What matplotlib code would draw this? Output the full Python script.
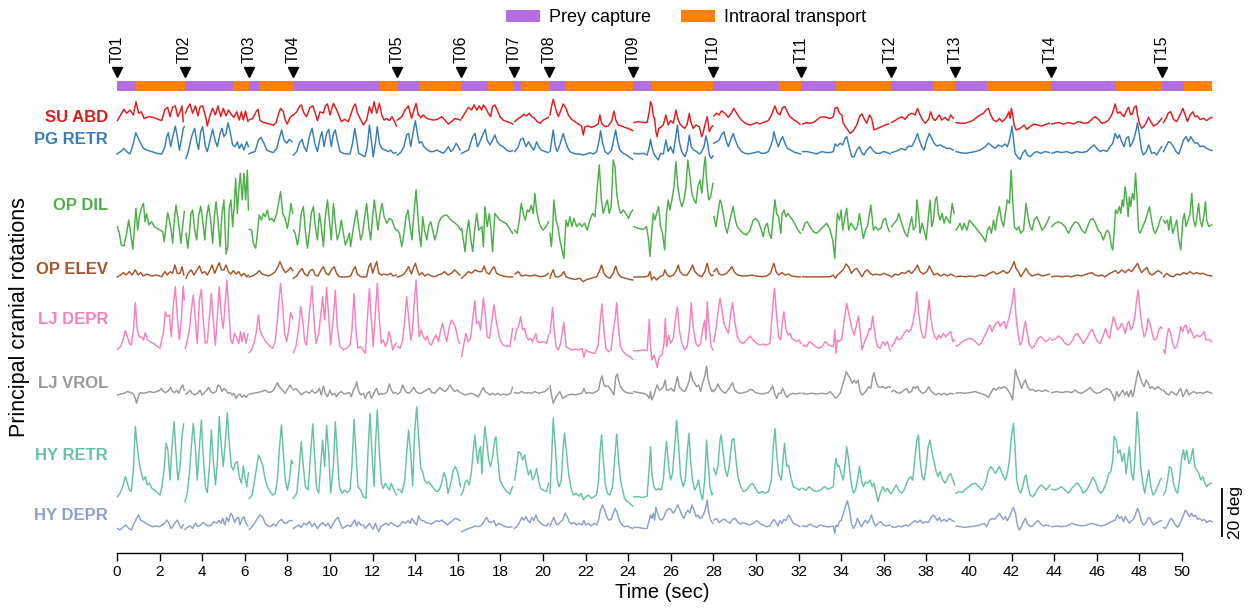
import numpy as np
import matplotlib
matplotlib.use("Agg")
import matplotlib.pyplot as plt
from matplotlib.patches import Patch

plt.rcParams['font.family'] = ['Liberation Sans', 'DejaVu Sans']

# ---------------- data ----------------
trial_names = ["T01", "T02", "T03", "T04", "T05", "T06", "T07", "T08",
               "T09", "T10", "T11", "T12", "T13", "T14", "T15"]
trial_start = [0.0, 3.17, 6.18, 8.26, 13.13, 16.15, 18.64, 20.30,
               24.24, 28.00, 32.10, 36.32, 39.35, 43.83, 49.08]
capture_end = [0.89, 5.46, 6.69, 12.33, 14.18, 17.40, 19.00, 21.03,
               25.10, 31.10, 33.74, 38.30, 40.86, 46.88, 50.10]
record_end = 51.40

series_names = ["SU ABD", "PG RETR", "OP DIL", "OP ELEV",
                "LJ DEPR", "LJ VROL", "HY RETR", "HY DEPR"]
series_colors = ["#e41a1c", "#377eb8", "#4daf4a", "#a65628",
                 "#f781bf", "#999999", "#66c2a5", "#8da0cb"]

# (time in s, rotation in deg)
su_abd = [
    (0.02,1.8),(0.17,4.1),(0.33,6.4),(0.45,4.8),(0.61,6.1),(0.77,4.1),(0.89,9.5),(1.02,4.8),(1.14,5.4),(1.27,2.7),
    (1.47,3.4),(1.71,3.1),(1.94,2.3),(2.10,1.8),(2.25,6.4),(2.38,7.2),(2.49,3.4),(2.61,7.2),(2.74,7.8),(2.85,3.4),
    (2.96,5.4),(3.05,7.8),(3.11,1.4),
    (3.21,4.8),(3.30,6.8),(3.43,8.6),(3.55,4.8),(3.68,7.8),(3.80,3.7),(3.90,7.5),(4.02,7.8),(4.18,2.7),(4.24,-0.4),
    (4.37,4.1),(4.49,6.8),(4.62,4.1),(4.74,7.8),(4.87,3.4),(4.99,6.8),(5.12,3.7),(5.24,6.1),(5.37,4.1),(5.49,3.1),
    (5.62,5.4),(5.74,2.0),(5.84,5.4),(5.93,2.0),(6.03,5.7),(6.15,1.4),
    (6.20,2.0),(6.37,2.7),(6.53,5.4),(6.62,6.4),(6.71,2.0),(6.87,1.0),(7.03,0.7),(7.18,0.4),(7.34,-0.1),(7.47,1.0),
    (7.59,4.8),(7.68,6.8),(7.81,5.4),(7.90,2.0),(8.00,0.4),(8.12,3.1),(8.25,4.1),
    (8.28,4.1),(8.44,5.4),(8.56,7.5),(8.65,8.2),(8.78,4.8),(8.90,3.4),(9.06,7.2),(9.19,7.8),(9.31,4.8),(9.41,1.8),
    (9.53,5.4),(9.69,4.8),(9.78,7.8),(9.88,8.6),(10.00,4.1),(10.16,8.8),(10.28,6.8),(10.41,4.1),(10.53,1.4),(10.69,2.3),
    (10.86,1.4),(10.97,4.1),(11.10,7.5),(11.19,8.6),(11.28,5.0),(11.41,2.7),(11.57,0.0),(11.72,2.0),(11.85,7.5),(11.96,4.8),
    (12.07,9.5),(12.19,4.8),(12.32,8.8),(12.43,4.1),(12.54,2.0),(12.66,2.7),(12.79,1.8),(12.91,3.4),(13.01,1.8),(13.12,-0.4),
    (13.16,2.0),(13.37,3.4),(13.52,6.1),(13.68,7.8),(13.83,2.7),(13.94,6.1),(14.04,8.8),(14.15,4.1),(14.26,3.1),(14.38,4.1),
    (14.54,2.7),(14.70,2.3),(14.85,2.0),(15.04,2.3),(15.24,3.4),(15.40,2.0),(15.56,0.4),(15.71,1.4),(15.87,2.7),(16.03,2.3),
    (16.13,2.0),
    (16.18,2.7),(16.34,5.0),(16.50,7.2),(16.65,6.1),(16.76,8.2),(16.89,6.1),(17.01,7.8),(17.12,6.1),(17.20,8.2),(17.32,6.8),
    (17.43,4.8),(17.54,3.4),(17.63,7.5),(17.74,8.2),(17.85,6.1),(17.98,3.4),(18.13,2.0),(18.29,1.4),(18.45,1.0),(18.57,0.4),
    (18.68,1.4),(18.84,2.7),(18.99,3.4),(19.10,4.4),(19.23,3.7),(19.35,4.8),(19.48,3.4),(19.60,2.7),(19.73,1.4),(19.86,0.7),
    (20.01,2.0),(20.17,2.7),(20.26,3.1),
    (20.33,4.1),(20.40,7.5),(20.48,10.5),(20.61,6.1),(20.72,3.4),(20.84,6.1),(20.95,8.6),(21.08,6.8),(21.19,4.1),(21.34,2.3),
    (21.50,1.4),(21.66,0.4),(21.81,-0.4),(21.89,-4.1),(21.97,-0.7),(22.12,-0.4),(22.28,-1.0),(22.44,-0.4),(22.59,0.4),(22.67,4.1),
    (22.75,0.7),(22.91,-0.7),(23.06,-0.4),(23.22,1.4),(23.33,5.7),(23.42,2.0),(23.53,0.0),(23.69,-0.4),(23.85,-1.0),(24.00,-1.4),
    (24.21,-2.3),
    (24.27,1.0),(24.47,1.4),(24.71,1.0),(24.89,1.0),(24.99,5.4),(25.05,9.5),(25.11,8.2),(25.18,3.7),(25.24,2.7),(25.30,-2.7),
    (25.36,-4.8),(25.43,-1.4),(25.52,-1.0),(25.65,0.0),(25.77,4.1),(25.88,0.0),(25.99,1.8),(26.12,0.7),(26.24,6.1),(26.33,2.7),
    (26.43,0.4),(26.55,-0.7),(26.66,-1.4),(26.77,0.4),(26.87,4.8),(26.93,1.4),(27.05,-1.4),(27.18,0.0),(27.34,-0.7),(27.45,-4.8),
    (27.52,-3.1),(27.60,0.0),(27.71,3.4),(27.81,-2.7),(27.92,-0.7),(27.98,-0.4),
    (28.02,3.7),(28.15,4.8),(28.27,4.1),(28.38,5.8),(28.54,4.8),(28.70,3.1),(28.85,5.0),(28.96,6.8),(29.09,4.8),(29.25,2.7),
    (29.40,1.4),(29.56,0.4),(29.72,0.0),(29.87,0.4),(30.03,1.0),(30.18,0.4),(30.34,1.0),(30.58,1.8),(30.73,4.1),(30.81,6.1),
    (30.89,7.8),(31.00,5.0),(31.12,4.1),(31.25,7.2),(31.36,7.5),(31.47,5.4),(31.59,3.4),(31.75,2.3),(31.91,1.4),(32.06,0.4),
    (32.19,0.4),(32.38,1.0),(32.53,0.7),(32.69,1.0),(32.85,2.0),(33.00,3.1),(33.16,3.4),(33.48,2.7),(33.63,3.4),(33.71,6.8),
    (33.82,7.2),(33.92,4.8),(34.03,4.1),(34.10,0.7),(34.26,-1.4),(34.42,-3.4),(34.57,-2.3),(34.73,0.0),(34.86,3.4),(34.97,4.5),
    (35.07,2.7),(35.20,0.7),(35.33,4.1),(35.43,2.7),(35.54,-2.0),(35.70,-1.4),(35.90,-0.7),(36.06,0.0),(36.22,0.4),
    (36.37,1.0),(36.53,1.8),(36.69,2.7),(36.84,3.4),(37.00,2.3),(37.16,4.1),(37.31,4.8),(37.47,4.1),(37.58,6.8),(37.67,4.8),
    (37.78,2.7),(37.94,0.7),(38.10,2.3),(38.20,5.4),(38.30,2.7),(38.41,1.8),(38.52,3.1),(38.61,4.1),(38.72,2.0),(38.88,3.1),
    (39.03,1.8),(39.14,4.1),(39.27,2.7),
    (39.39,1.0),(39.58,0.7),(39.82,0.7),(40.05,1.4),(40.21,2.0),(40.36,3.1),(40.52,4.1),(40.68,4.8),(40.80,6.1),(40.91,6.8),
    (41.02,4.1),(41.15,2.0),(41.30,1.4),(41.43,2.7),(41.54,1.4),(41.65,2.0),(41.77,3.4),(41.87,5.4),(41.93,2.7),(41.99,6.8),
    (42.05,4.1),(42.12,0.0),(42.21,-2.0),(42.40,-1.4),(42.59,0.0),(42.71,-1.8),(42.87,-0.7),(43.03,0.4),(43.21,0.0),(43.42,-0.4),
    (43.65,0.4),(43.78,0.7),
    (43.89,0.4),(44.04,0.7),(44.20,1.0),(44.43,0.4),(44.67,1.0),(44.90,0.4),(45.14,1.4),(45.37,0.7),(45.61,1.0),(45.81,2.7),
    (45.92,3.4),(46.08,2.3),(46.23,0.7),(46.39,1.0),(46.55,2.0),(46.70,4.1),(46.78,6.1),(46.86,8.6),(46.97,4.8),(47.09,5.4),
    (47.19,4.1),(47.28,3.4),(47.41,6.1),(47.49,7.2),(47.59,4.1),(47.69,5.0),(47.75,7.2),(47.85,7.8),(47.91,4.1),(48.00,0.7),
    (48.11,-1.4),(48.27,0.0),(48.43,3.1),(48.53,1.4),(48.66,-0.4),(48.82,0.4),(48.97,1.8),(49.05,2.7),
    (49.13,1.0),(49.25,2.7),(49.36,5.0),(49.47,5.4),(49.60,2.3),(49.75,1.4),(49.91,4.1),(50.04,6.8),(50.15,4.1),(50.26,1.4),
    (50.38,4.1),(50.51,5.4),(50.61,3.4),(50.72,3.7),(50.85,2.3),(51.00,2.7),(51.16,1.8),(51.29,2.7),(51.40,3.1),
]

pg_retr = [
    (0.00,0.4),(0.17,1.4),(0.33,2.7),(0.45,1.4),(0.61,0.4),(0.77,4.8),(0.88,9.1),(1.00,6.8),(1.11,4.8),(1.24,2.7),
    (1.39,2.0),(1.63,1.4),(1.86,0.7),(2.10,0.4),(2.25,3.4),(2.33,7.5),(2.41,9.1),(2.52,3.4),(2.64,8.2),(2.74,11.8),
    (2.83,7.5),(2.93,2.0),(3.02,6.1),(3.11,10.9),(3.16,11.6),
    (3.24,-1.4),(3.35,1.4),(3.46,6.1),(3.55,8.8),(3.65,10.9),(3.74,5.4),(3.83,2.3),(3.93,9.5),(4.02,11.6),(4.15,3.4),
    (4.24,1.4),(4.37,6.1),(4.49,10.5),(4.60,6.1),(4.71,3.4),(4.84,8.8),(4.93,10.9),(5.02,7.5),(5.12,8.8),(5.21,13.2),
    (5.31,9.5),(5.43,4.1),(5.54,3.4),(5.65,5.4),(5.74,2.7),(5.85,4.5),(5.96,2.0),(6.09,5.4),(6.17,3.4),
    (6.20,0.4),(6.32,1.0),(6.48,1.4),(6.64,6.1),(6.75,7.2),(6.87,5.4),(7.03,2.0),(7.18,1.4),(7.34,1.0),(7.50,2.7),
    (7.62,6.8),(7.73,10.2),(7.84,6.1),(7.97,4.8),(8.09,6.4),(8.22,5.4),
    (8.28,0.0),(8.44,1.4),(8.56,4.8),(8.69,6.4),(8.78,3.4),(8.90,1.4),(9.03,7.5),(9.16,10.9),(9.28,4.8),(9.41,1.4),
    (9.53,6.8),(9.62,9.5),(9.72,3.4),(9.84,8.8),(9.94,10.5),(10.06,3.4),(10.16,8.8),(10.25,10.2),(10.34,6.1),(10.47,1.4),
    (10.63,0.7),(10.78,0.4),(10.94,0.4),(11.06,4.8),(11.16,10.9),(11.25,6.1),(11.35,0.7),(11.49,0.0),(11.64,-0.7),(11.75,3.4),
    (11.85,12.2),(11.94,6.1),(12.03,-0.7),(12.13,4.8),(12.22,11.6),(12.32,4.8),(12.43,2.7),(12.58,2.0),(12.74,1.4),(12.85,2.0),
    (12.97,0.7),(13.10,1.0),
    (13.16,0.0),(13.32,1.0),(13.47,3.4),(13.60,8.2),(13.69,8.8),(13.79,3.4),(13.91,9.5),(14.01,14.0),(14.10,8.8),(14.19,4.8),
    (14.30,5.4),(14.41,3.4),(14.54,2.3),(14.70,1.4),(14.85,1.4),(15.01,2.0),(15.16,1.4),(15.32,0.7),(15.45,2.0),(15.56,3.4),
    (15.67,1.4),(15.79,2.3),(15.92,4.8),(16.03,3.4),(16.10,2.0),
    (16.18,0.7),(16.34,1.4),(16.50,2.0),(16.60,4.8),(16.70,7.5),(16.81,8.8),(16.92,3.4),(17.01,4.8),(17.20,8.8),(17.29,10.5),
    (17.38,6.1),(17.51,4.1),(17.63,6.1),(17.74,8.2),(17.85,5.4),(17.98,4.1),(18.13,3.4),(18.29,2.0),(18.45,1.4),(18.57,1.8),
    (18.68,1.4),(18.84,3.4),(18.95,6.4),(19.07,6.8),(19.20,3.4),(19.32,5.4),(19.45,3.4),(19.57,2.0),(19.70,5.4),(19.79,3.4),
    (19.93,2.0),(20.09,1.4),(20.25,1.0),
    (20.33,1.4),(20.40,5.4),(20.48,10.2),(20.58,3.4),(20.67,1.4),(20.76,3.4),(20.95,8.8),(21.04,6.1),(21.14,3.4),(21.26,1.4),
    (21.42,0.7),(21.58,0.4),(21.73,0.4),(21.89,0.0),(22.05,0.4),(22.20,1.0),(22.36,0.4),(22.52,1.4),(22.64,6.1),(22.70,9.9),
    (22.80,4.8),(22.91,1.4),(23.06,0.4),(23.22,2.0),(23.33,6.8),(23.41,10.2),(23.50,5.4),(23.61,2.0),(23.77,0.7),(23.92,0.0),
    (24.08,-1.0),(24.21,-1.8),
    (24.27,0.7),(24.47,0.4),(24.71,0.7),(24.89,0.0),(24.99,3.4),(25.05,6.4),(25.11,3.4),(25.21,0.4),(25.30,-0.7),(25.41,-2.0),
    (25.52,0.7),(25.65,0.4),(25.77,6.1),(25.88,1.4),(25.99,3.4),(26.12,0.7),(26.21,6.1),(26.31,12.2),(26.40,5.4),(26.51,1.4),
    (26.66,-0.7),(26.77,2.0),(26.87,8.2),(26.96,3.4),(27.08,2.0),(27.21,1.4),(27.34,0.4),(27.45,1.4),(27.56,3.4),(27.65,7.8),
    (27.73,4.8),(27.81,0.0),(27.90,-1.4),(27.98,-0.4),
    (28.02,4.8),(28.15,5.4),(28.27,6.1),(28.38,8.2),(28.49,9.5),(28.59,6.1),(28.70,3.4),(28.81,6.1),(28.93,8.8),(29.03,6.1),
    (29.15,3.4),(29.32,1.4),(29.48,0.7),(29.64,0.4),(29.79,0.7),(29.95,1.0),(30.11,1.4),(30.26,0.7),(30.42,0.7),(30.58,1.4),
    (30.68,3.4),(30.78,6.1),(30.84,9.5),(30.94,6.1),(31.05,3.4),(31.16,6.1),(31.25,7.5),(31.36,4.8),(31.47,2.7),(31.63,2.0),
    (31.83,1.0),(31.99,0.7),(32.09,0.4),
    (32.19,1.4),(32.38,1.4),(32.61,1.0),(32.85,0.4),(33.08,1.4),(33.32,1.0),(33.48,1.0),(33.63,1.4),(33.71,4.5),(33.82,3.7),
    (33.95,4.8),(34.07,4.1),(34.18,6.8),(34.26,7.5),(34.37,3.4),(34.50,-0.7),(34.61,-0.7),(34.73,2.0),(34.86,3.4),(34.97,0.7),
    (35.07,0.0),(35.20,2.0),(35.36,3.4),(35.48,2.0),(35.64,0.7),(35.83,0.7),(35.98,1.4),(36.17,1.0),(36.30,0.4),
    (36.37,1.0),(36.53,1.4),(36.69,2.0),(36.84,2.7),(37.00,2.0),(37.16,3.7),(37.31,3.4),(37.47,6.1),(37.58,8.8),(37.67,6.1),
    (37.78,3.4),(37.89,2.0),(38.02,6.1),(38.14,8.8),(38.25,6.8),(38.36,4.8),(38.49,3.7),(38.64,4.1),(38.80,3.4),(38.96,2.7),
    (39.11,2.7),(39.27,2.0),
    (39.39,1.4),(39.58,1.0),(39.82,0.7),(40.05,1.0),(40.29,1.4),(40.52,2.0),(40.76,3.4),(40.91,4.8),(41.07,3.7),(41.22,2.7),
    (41.38,4.1),(41.54,3.4),(41.69,4.5),(41.80,3.4),(41.90,6.1),(41.96,8.8),(42.02,11.8),(42.09,6.1),(42.16,0.7),(42.27,-0.7),
    (42.40,-1.8),(42.52,0.7),(42.63,2.0),(42.74,0.0),(42.87,-0.7),(43.03,0.7),(43.18,1.4),(43.37,0.7),(43.57,1.4),(43.78,1.0),
    (43.89,0.7),(44.12,1.4),(44.35,1.0),(44.59,1.4),(44.82,0.7),(45.06,1.4),(45.29,1.0),(45.53,1.4),(45.76,3.4),(45.87,4.1),
    (46.00,2.7),(46.15,1.4),(46.31,2.0),(46.47,1.4),(46.62,3.4),(46.75,4.8),(46.86,8.8),(46.97,6.8),(47.06,8.2),(47.17,5.4),
    (47.28,3.4),(47.38,6.8),(47.49,7.5),(47.56,3.4),(47.66,4.8),(47.75,6.8),(47.85,10.2),(47.91,13.2),(48.00,8.2),(48.10,2.0),
    (48.19,0.0),(48.32,1.4),(48.44,4.1),(48.57,0.7),(48.69,1.0),(48.82,0.0),(48.94,2.0),(49.05,3.4),
    (49.13,1.4),(49.25,3.4),(49.36,5.4),(49.47,5.0),(49.60,3.4),(49.72,1.4),(49.85,0.4),(49.97,3.4),(50.07,6.1),(50.19,7.5),
    (50.30,5.4),(50.41,7.5),(50.51,6.1),(50.61,4.8),(50.72,5.0),(50.85,3.4),(51.00,3.7),(51.16,2.7),(51.32,2.0),(51.40,1.8),
]

op_dil = [
    (0.02,3.4),(0.11,0.7),(0.20,-4.1),(0.33,-4.5),(0.45,0.7),(0.55,6.1),(0.64,0.7),(0.74,-5.8),(0.81,2.0),(0.89,10.9),
    (0.97,2.0),(1.05,7.5),(1.14,10.9),(1.24,12.9),(1.32,5.4),(1.39,8.8),(1.50,4.1),(1.63,5.4),(1.75,3.4),(1.89,2.7),
    (2.02,2.0),(2.14,1.4),(2.22,-2.7),(2.30,3.4),(2.38,9.1),(2.46,6.1),(2.54,2.0),(2.61,-3.4),(2.69,6.1),(2.77,12.2),
    (2.85,7.5),(2.93,2.0),(3.00,-3.4),(3.08,3.4),(3.16,9.5),
    (3.24,0.7),(3.32,-5.4),(3.40,0.7),(3.47,8.8),(3.55,10.2),(3.65,2.0),(3.74,-2.0),(3.83,7.5),(3.93,11.8),(4.02,6.1),
    (4.12,-2.0),(4.21,7.5),(4.30,12.2),(4.40,6.1),(4.49,-3.4),(4.57,7.5),(4.65,13.6),(4.74,6.1),(4.84,-4.8),(4.93,8.8),
    (5.02,14.3),(5.12,-7.8),(5.20,-4.8),(5.27,10.9),(5.35,14.3),(5.43,3.4),(5.51,12.9),(5.57,23.1),(5.65,8.8),(5.73,19.7),
    (5.79,25.2),(5.88,14.3),(5.96,25.2),(6.04,14.3),(6.12,26.5),(6.17,10.2),
    (6.21,2.3),(6.32,2.0),(6.40,-3.4),(6.51,-5.4),(6.59,0.7),(6.68,8.2),(6.78,6.1),(6.87,8.8),(6.96,7.5),(7.06,10.2),
    (7.15,6.1),(7.26,6.8),(7.37,5.4),(7.50,8.8),(7.61,14.3),(7.68,17.7),(7.78,8.8),(7.89,6.8),(8.00,2.7),(8.09,7.5),
    (8.17,12.9),(8.25,8.8),
    (8.28,2.0),(8.37,0.7),(8.47,-4.1),(8.56,0.7),(8.65,8.8),(8.75,11.6),(8.84,2.0),(8.94,-5.4),(9.03,0.7),(9.12,8.8),
    (9.22,11.6),(9.31,3.4),(9.41,-2.0),(9.50,8.8),(9.59,3.4),(9.69,-4.8),(9.78,7.5),(9.88,14.3),(9.97,6.1),(10.06,-2.0),
    (10.16,12.9),(10.25,4.8),(10.34,-2.0),(10.44,0.7),(10.53,6.1),(10.63,0.7),(10.72,-4.1),(10.81,-2.0),(10.91,0.7),(10.97,-4.8),
    (11.06,0.7),(11.16,6.1),(11.25,10.2),(11.35,3.4),(11.44,-2.0),(11.53,0.7),(11.63,7.5),(11.72,12.9),(11.82,3.4),(11.91,-2.0),
    (12.00,7.5),(12.08,14.3),(12.16,8.8),(12.25,2.0),(12.35,8.8),(12.44,12.9),(12.54,7.5),(12.66,4.8),(12.79,6.8),(12.91,6.1),
    (13.04,2.7),(13.11,2.0),
    (13.16,2.0),(13.26,0.7),(13.37,-4.8),(13.47,0.7),(13.57,7.5),(13.66,10.2),(13.76,3.4),(13.85,-2.0),(13.94,8.8),(14.04,18.4),
    (14.12,8.8),(14.19,0.7),(14.27,-4.8),(14.35,7.5),(14.44,2.0),(14.54,-2.0),(14.63,3.4),(14.73,5.4),(14.82,2.0),(14.92,-2.0),
    (15.01,0.7),(15.10,4.8),(15.20,6.8),(15.32,7.8),(15.45,8.2),(15.56,7.5),(15.67,6.1),(15.79,5.4),(15.92,4.5),(16.04,3.4),
    (16.13,2.0),
    (16.18,2.7),(16.26,-2.0),(16.34,-6.8),(16.42,0.7),(16.51,6.1),(16.61,-2.0),(16.70,-6.8),(16.79,2.0),(16.89,8.8),(16.98,2.0),
    (17.13,3.4),(17.20,-4.8),(17.27,11.6),(17.38,3.4),(17.48,8.8),(17.56,2.0),(17.63,-6.8),(17.74,8.8),(17.85,7.5),(17.98,6.1),
    (18.13,5.4),(18.29,4.5),(18.45,2.3),(18.57,0.7),
    (18.68,2.0),(18.79,0.7),(18.89,6.1),(18.98,12.9),(19.07,8.8),(19.17,6.1),(19.26,10.2),(19.35,9.5),(19.45,12.2),(19.54,8.8),
    (19.62,17.0),(19.70,10.2),(19.79,6.1),(19.89,3.4),(20.01,2.0),(20.14,3.4),(20.26,5.4),
    (20.33,0.7),(20.39,-4.8),(20.45,2.0),(20.51,14.3),(20.61,6.1),(20.70,3.4),(20.79,-2.0),(20.89,-6.1),(20.98,-9.5),(21.08,6.1),
    (21.17,3.4),(21.26,7.5),(21.36,3.4),(21.45,6.8),(21.58,3.4),(21.70,4.8),(21.83,3.4),(21.95,4.8),(22.08,2.0),(22.20,6.1),
    (22.33,8.8),(22.44,7.5),(22.55,19.7),(22.64,28.6),(22.74,14.3),(22.83,8.8),(22.92,11.6),(23.02,14.3),(23.11,8.8),(23.20,11.6),
    (23.30,30.6),(23.38,27.9),(23.46,17.0),(23.55,11.6),(23.64,8.8),(23.77,10.2),(23.89,8.8),(24.02,6.8),(24.11,8.8),(24.21,10.2),
    (24.27,3.4),(24.47,2.7),(24.71,2.3),(24.86,3.4),(24.96,-2.0),(25.02,-8.8),(25.10,0.7),(25.18,8.8),(25.25,6.1),(25.33,8.8),
    (25.43,11.6),(25.52,3.4),(25.61,0.7),(25.71,-6.1),(25.80,8.8),(25.88,14.3),(25.96,10.2),(26.05,14.3),(26.15,19.7),(26.24,29.9),
    (26.33,19.7),(26.43,14.3),(26.52,11.6),(26.62,14.3),(26.71,19.7),(26.80,30.6),(26.90,23.8),(26.99,17.0),(27.09,14.3),(27.18,12.9),
    (27.27,19.7),(27.37,22.4),(27.46,17.0),(27.56,27.9),(27.62,32.0),(27.68,22.4),(27.78,14.3),(27.87,15.6),(27.98,21.1),
    (28.02,7.5),(28.12,3.4),(28.21,8.8),(28.31,14.3),(28.38,12.9),(28.46,8.8),(28.56,3.4),(28.65,0.7),(28.74,4.8),(28.85,8.8),
    (28.93,11.6),(29.03,6.1),(29.12,3.4),(29.25,2.0),(29.40,0.7),(29.56,0.0),(29.72,2.0),(29.87,6.1),(30.00,6.8),(30.12,5.4),
    (30.25,2.0),(30.34,-0.7),(30.43,3.4),(30.53,4.8),(30.62,0.7),(30.72,-1.4),(30.81,7.5),(30.89,14.3),(30.97,8.8),(31.06,7.5),
    (31.16,0.7),(31.23,8.8),(31.31,10.2),(31.41,7.5),(31.50,8.8),(31.60,7.5),(31.72,6.1),(31.85,4.1),(31.97,2.0),(32.09,0.7),
    (32.19,2.0),(32.30,4.8),(32.41,5.4),(32.53,3.4),(32.69,1.4),(32.85,0.7),(33.00,2.0),(33.16,3.4),(33.32,4.8),(33.48,2.0),
    (33.60,-2.0),(33.70,-9.5),(33.76,0.7),(33.82,8.8),(33.92,6.1),(34.00,10.2),(34.07,2.0),(34.18,7.5),(34.26,10.9),(34.35,2.0),
    (34.45,4.8),(34.57,3.4),(34.67,2.0),(34.76,3.4),(34.86,8.8),(34.95,3.4),(35.04,-1.4),(35.14,2.0),(35.23,3.4),(35.33,8.8),
    (35.39,12.2),(35.45,7.5),(35.51,2.0),(35.61,3.4),(35.73,2.0),(35.86,2.7),(35.98,6.1),(36.08,6.8),(36.17,3.4),(36.26,1.4),
    (36.36,3.4),(36.48,4.8),(36.61,6.1),(36.70,8.8),(36.80,6.1),(36.89,3.4),(37.00,0.7),(37.11,-0.7),(37.20,3.4),(37.31,7.5),
    (37.39,2.0),(37.49,3.4),(37.55,14.3),(37.63,8.8),(37.70,0.7),(37.80,4.8),(37.89,2.0),(37.99,-2.0),(38.08,6.1),(38.17,14.3),
    (38.25,3.4),(38.33,6.1),(38.42,14.3),(38.49,15.6),(38.56,8.8),(38.64,6.1),(38.74,8.8),(38.83,4.8),(38.92,7.5),(39.02,6.1),
    (39.11,4.8),(39.21,12.9),(39.30,8.8),
    (39.39,2.0),(39.49,3.4),(39.58,4.8),(39.68,2.0),(39.77,4.8),(39.90,2.0),(40.02,6.1),(40.15,4.8),(40.27,3.4),(40.40,2.0),
    (40.52,0.7),(40.65,-0.7),(40.77,-2.7),(40.87,2.0),(40.96,3.4),(41.05,0.7),(41.15,6.1),(41.24,2.0),(41.33,7.5),(41.43,11.6),
    (41.52,6.1),(41.62,3.4),(41.71,8.8),(41.80,14.3),(41.90,12.9),(41.98,26.5),(42.05,14.3),(42.13,3.4),(42.24,2.0),(42.34,3.4),
    (42.43,0.7),(42.56,2.0),(42.68,12.9),(42.77,7.5),(42.87,3.4),(42.96,2.0),(43.06,6.1),(43.18,7.5),(43.31,4.8),(43.43,2.0),
    (43.56,3.4),(43.68,5.4),(43.78,7.5),
    (43.89,3.4),(44.04,4.8),(44.20,5.4),(44.35,4.8),(44.51,3.4),(44.67,0.7),(44.82,3.4),(44.98,5.4),(45.14,4.8),(45.29,2.0),
    (45.45,0.7),(45.56,3.4),(45.69,6.1),(45.81,6.8),(45.94,4.8),(46.06,2.0),(46.19,0.7),(46.31,-2.0),(46.41,0.7),(46.50,2.0),
    (46.59,0.7),(46.69,-4.8),(46.75,-6.1),(46.81,0.7),(46.88,10.2),(46.97,8.8),(47.06,11.6),(47.13,8.8),(47.19,14.3),(47.25,11.6),
    (47.33,19.7),(47.41,14.3),(47.47,7.5),(47.53,15.6),(47.59,11.6),(47.67,17.0),(47.75,14.3),(47.82,25.2),(47.88,17.0),(47.96,2.0),
    (48.03,0.7),(48.16,3.4),(48.29,6.1),(48.38,8.8),(48.47,11.6),(48.57,6.1),(48.66,2.0),(48.75,0.7),(48.88,3.4),(48.97,6.1),
    (49.04,7.5),
    (49.13,6.1),(49.22,4.8),(49.32,6.1),(49.38,2.0),(49.47,7.5),(49.56,0.7),(49.66,3.4),(49.75,6.1),(49.85,-2.0),(49.94,-6.1),
    (50.04,6.1),(50.11,8.8),(50.19,3.4),(50.29,6.1),(50.38,8.8),(50.46,17.0),(50.54,6.1),(50.63,3.4),(50.72,8.8),(50.78,12.9),
    (50.85,6.1),(50.94,3.4),(51.04,8.8),(51.10,13.6),(51.16,6.1),(51.26,3.4),(51.35,4.1),(51.40,4.1),
]

op_elev = [
    (0.02,0.0),(0.17,0.8),(0.30,1.8),(0.42,0.8),(0.58,2.2),(0.70,0.8),(0.86,2.9),(0.99,0.8),(1.11,1.8),(1.24,0.4),
    (1.39,1.2),(1.63,0.4),(1.86,0.8),(2.10,0.1),(2.25,2.2),(2.36,0.8),(2.49,2.2),(2.61,1.5),(2.72,4.9),(2.83,1.5),
    (2.96,1.5),(3.05,4.2),(3.14,0.8),
    (3.24,-0.5),(3.36,1.8),(3.49,2.9),(3.61,0.8),(3.74,2.6),(3.87,4.5),(3.99,1.5),(4.12,2.2),(4.24,0.8),(4.37,2.9),
    (4.46,4.9),(4.59,1.5),(4.71,4.2),(4.80,5.8),(4.90,2.9),(5.02,2.9),(5.12,4.9),(5.23,2.2),(5.34,1.2),(5.46,2.6),
    (5.59,1.2),(5.71,2.2),(5.84,0.4),(5.96,1.5),(6.09,0.1),(6.17,0.8),
    (6.21,0.0),(6.37,0.4),(6.56,1.5),(6.68,2.6),(6.81,1.2),(6.96,0.8),(7.12,0.4),(7.28,1.2),(7.43,2.2),(7.56,4.2),
    (7.65,6.3),(7.78,3.5),(7.90,1.8),(8.03,2.6),(8.15,3.9),(8.25,2.6),
    (8.28,-0.5),(8.44,0.4),(8.56,2.2),(8.69,3.5),(8.81,1.2),(8.94,0.4),(9.06,2.6),(9.19,3.1),(9.31,0.8),(9.44,0.4),
    (9.56,2.6),(9.69,4.2),(9.81,1.5),(9.94,0.8),(10.06,2.9),(10.19,4.2),(10.31,1.5),(10.44,0.1),(10.63,0.0),(10.81,0.1),
    (10.97,0.4),(11.10,3.1),(11.19,4.2),(11.28,1.2),(11.44,0.1),(11.60,0.0),(11.72,0.1),(11.82,4.2),(11.91,5.6),(12.00,1.5),
    (12.10,4.2),(12.19,6.3),(12.29,1.5),(12.41,0.8),(12.54,1.2),(12.69,0.8),(12.85,1.5),(12.97,0.4),(13.10,0.8),
    (13.16,0.0),(13.32,0.4),(13.47,1.2),(13.60,2.9),(13.69,4.2),(13.82,1.2),(13.91,3.5),(14.01,5.6),(14.10,2.9),(14.19,0.8),
    (14.32,1.8),(14.44,0.4),(14.60,1.2),(14.76,0.4),(14.92,0.1),(15.07,0.8),(15.23,1.2),(15.38,2.2),(15.54,0.8),(15.70,1.5),
    (15.85,2.9),(15.98,1.8),(16.10,0.8),
    (16.18,-0.5),(16.34,0.8),(16.50,2.2),(16.65,1.5),(16.81,2.9),(16.97,2.2),(17.13,2.2),(17.23,4.5),(17.35,1.8),(17.48,1.2),
    (17.60,3.1),(17.70,4.2),(17.82,1.5),(17.98,0.8),(18.13,0.4),(18.29,0.1),(18.45,0.0),(18.57,0.1),
    (18.68,1.2),(18.84,2.2),(18.99,0.4),(19.20,0.8),(19.39,0.4),(19.62,0.8),(19.86,0.1),(20.09,0.4),(20.25,1.5),
    (20.33,-0.5),(20.40,1.5),(20.48,2.9),(20.58,0.1),(20.72,0.0),(20.87,0.8),(20.98,2.2),(21.08,0.1),(21.26,-0.5),(21.50,-1.0),
    (21.73,-0.5),(21.89,-1.9),(22.05,-1.0),(22.28,-0.5),(22.52,0.1),(22.64,2.2),(22.75,4.9),(22.86,1.5),(22.99,0.1),(23.14,-0.5),
    (23.30,1.5),(23.41,4.5),(23.52,1.5),(23.64,0.1),(23.85,-0.5),(24.08,-1.0),(24.21,-1.2),
    (24.27,0.0),(24.55,0.0),(24.79,0.1),(24.94,0.4),(25.02,2.2),(25.10,-1.2),(25.21,0.1),(25.33,-1.2),(25.49,0.1),(25.65,0.8),
    (25.72,2.9),(25.83,0.8),(25.96,0.1),(26.12,0.8),(26.27,2.9),(26.35,4.9),(26.43,2.2),(26.58,0.8),(26.77,0.8),(26.93,3.1),
    (27.02,4.9),(27.13,2.2),(27.29,0.8),(27.45,0.1),(27.60,2.2),(27.71,5.6),(27.81,1.8),(27.92,0.4),(27.98,0.8),
    (28.02,2.2),(28.15,3.5),(28.27,1.2),(28.43,0.8),(28.62,1.5),(28.78,3.1),(28.87,4.2),(29.00,1.8),(29.15,0.8),(29.34,0.4),
    (29.56,0.4),(29.79,0.8),(30.03,0.4),(30.26,0.1),(30.50,0.4),(30.68,1.5),(30.78,4.2),(30.84,5.6),(30.94,2.2),(31.06,0.8),
    (31.22,1.8),(31.36,0.8),(31.52,1.2),(31.67,0.4),(31.91,0.1),(32.09,0.0),
    (32.19,0.1),(32.45,0.0),(32.69,0.1),(32.92,0.0),(33.16,0.1),(33.48,0.1),(33.63,0.8),(33.73,-0.5),(33.82,0.8),(33.95,1.8),
    (34.10,3.1),(34.23,5.3),(34.35,4.2),(34.48,1.5),(34.60,2.9),(34.73,3.5),(34.86,1.8),(34.98,0.1),(35.11,2.2),(35.23,2.9),
    (35.36,1.5),(35.48,0.8),(35.64,1.2),(35.83,0.8),(36.01,1.5),(36.20,0.8),(36.30,0.4),
    (36.37,0.0),(36.53,1.2),(36.69,0.8),(36.84,1.8),(37.00,1.5),(37.16,2.6),(37.31,1.5),(37.47,3.1),(37.58,4.9),(37.70,2.2),
    (37.86,1.2),(38.02,2.2),(38.14,4.5),(38.25,2.6),(38.36,0.8),(38.52,1.5),(38.67,0.4),(38.83,1.2),(38.99,0.4),(39.14,1.2),
    (39.30,0.4),
    (39.39,0.1),(39.58,0.4),(39.82,0.1),(40.05,0.4),(40.29,0.1),(40.52,0.8),(40.76,0.4),(40.96,1.5),(41.15,2.2),(41.30,1.2),
    (41.46,1.8),(41.62,2.6),(41.77,1.5),(41.90,2.2),(42.02,4.2),(42.12,6.3),(42.21,3.5),(42.32,2.2),(42.43,0.1),(42.56,1.8),
    (42.68,3.5),(42.81,1.5),(42.95,0.4),(43.10,0.8),(43.26,1.2),(43.42,0.4),(43.62,0.8),(43.78,1.2),
    (43.89,0.1),(44.12,0.4),(44.35,0.1),(44.59,0.4),(44.82,0.1),(45.06,0.8),(45.29,0.4),(45.53,1.2),(45.76,1.8),(45.92,0.8),
    (46.08,0.4),(46.23,0.8),(46.39,0.1),(46.55,1.2),(46.70,1.8),(46.86,2.6),(47.01,1.5),(47.17,2.9),(47.33,1.8),(47.49,3.1),
    (47.64,2.2),(47.80,4.2),(47.91,5.6),(48.00,3.5),(48.11,1.8),(48.22,2.9),(48.35,3.9),(48.47,1.5),(48.60,0.8),(48.74,1.8),
    (48.89,2.6),(49.05,1.5),
    (49.13,0.0),(49.28,1.5),(49.44,0.4),(49.60,0.1),(49.75,1.2),(49.91,0.8),(50.07,1.8),(50.22,1.2),(50.38,2.2),(50.54,1.2),
    (50.69,1.8),(50.85,1.2),(51.00,1.5),(51.16,0.8),(51.40,0.4),
]

lj_depr = [
    (0.02,0.3),(0.17,1.4),(0.30,4.8),(0.39,7.9),(0.49,5.4),(0.58,2.7),(0.67,2.0),(0.77,8.2),(0.86,19.3),(0.95,8.2),
    (1.05,5.2),(1.14,5.4),(1.24,4.1),(1.33,7.1),(1.42,4.4),(1.55,3.4),(1.71,2.7),(1.86,1.6),(2.02,0.7),(2.11,4.8),
    (2.18,6.8),(2.27,15.6),(2.36,13.6),(2.46,14.3),(2.55,5.4),(2.64,17.7),(2.74,25.8),(2.83,13.6),(2.93,4.1),(3.02,12.2),
    (3.11,26.1),(3.16,20.4),
    (3.21,0.7),(3.30,4.1),(3.40,8.2),(3.49,16.3),(3.58,22.4),(3.68,12.2),(3.77,2.7),(3.87,20.4),(3.96,24.8),(4.05,12.2),
    (4.15,2.7),(4.24,3.0),(4.34,13.6),(4.43,23.1),(4.52,12.2),(4.62,2.0),(4.71,13.6),(4.80,25.8),(4.90,13.6),(4.99,8.8),
    (5.09,20.4),(5.15,28.6),(5.24,17.7),(5.34,4.1),(5.43,2.7),(5.52,6.8),(5.62,4.8),(5.71,2.7),(5.80,7.5),(5.87,3.4),
    (5.96,7.1),(6.06,2.7),(6.15,6.5),
    (6.20,-1.1),(6.32,0.0),(6.43,2.7),(6.53,6.8),(6.64,14.3),(6.71,8.2),(6.81,6.1),(6.93,4.1),(7.06,2.7),(7.18,1.6),
    (7.31,0.7),(7.43,3.4),(7.53,12.2),(7.62,21.8),(7.68,27.2),(7.78,17.7),(7.87,6.8),(7.97,3.4),(8.06,8.2),(8.15,15.2),
    (8.25,12.9),
    (8.28,-1.1),(8.40,1.4),(8.53,8.8),(8.62,17.7),(8.72,12.2),(8.81,3.4),(8.90,2.0),(9.03,15.0),(9.16,26.1),(9.25,12.2),
    (9.34,2.7),(9.47,6.8),(9.56,13.6),(9.65,21.8),(9.75,12.2),(9.84,25.6),(9.94,13.6),(10.03,2.0),(10.16,13.6),(10.25,24.5),
    (10.34,9.5),(10.47,1.4),(10.63,0.0),(10.78,0.7),(10.94,2.0),(11.03,8.2),(11.13,23.1),(11.22,8.2),(11.31,0.7),(11.44,1.4),
    (11.57,0.0),(11.66,-1.4),(11.75,12.2),(11.85,25.2),(11.94,12.2),(12.03,1.4),(12.13,15.0),(12.22,27.2),(12.32,12.2),(12.41,2.7),
    (12.50,4.1),(12.60,1.4),(12.69,3.4),(12.76,7.5),(12.85,4.8),(12.94,0.0),(13.04,2.0),(13.11,2.7),
    (13.18,1.4),(13.29,0.7),(13.41,4.1),(13.51,12.2),(13.60,21.8),(13.69,13.6),(13.79,4.1),(13.88,8.2),(13.94,17.7),(14.04,28.6),
    (14.12,15.0),(14.19,5.4),(14.29,8.2),(14.38,5.4),(14.48,4.1),(14.57,5.7),(14.66,2.7),(14.76,2.0),(14.85,4.1),(14.98,6.1),
    (15.09,3.4),(15.20,8.2),(15.29,10.9),(15.38,6.8),(15.48,3.4),(15.57,8.2),(15.70,12.2),(15.82,10.9),(15.92,8.2),(16.01,4.1),
    (16.10,2.7),
    (16.18,-2.7),(16.29,2.7),(16.38,6.8),(16.49,3.4),(16.60,4.8),(16.73,15.0),(16.80,20.1),(16.88,10.9),(16.98,11.6),(17.07,8.2),
    (17.13,15.0),(17.20,21.1),(17.29,15.0),(17.38,5.4),(17.48,4.8),(17.59,10.9),(17.70,18.4),(17.82,10.9),(17.98,4.1),(18.13,2.0),
    (18.29,1.6),(18.45,1.4),(18.57,8.8),
    (18.67,4.1),(18.76,8.2),(18.85,9.5),(18.95,13.6),(19.04,8.2),(19.13,8.8),(19.23,5.4),(19.32,4.1),(19.42,4.8),(19.51,3.4),
    (19.60,5.4),(19.67,6.8),(19.73,3.4),(19.86,3.0),(20.01,3.4),(20.17,2.7),(20.26,6.1),
    (20.33,6.8),(20.39,12.2),(20.45,17.4),(20.51,9.5),(20.61,1.4),(20.72,0.0),(20.83,2.7),(20.92,8.2),(20.98,11.2),(21.08,1.4),
    (21.20,0.7),(21.36,0.0),(21.51,0.3),(21.67,0.0),(21.83,0.7),(21.92,-3.0),(22.01,0.0),(22.14,-0.7),(22.28,-1.1),(22.44,-1.4),
    (22.59,2.0),(22.69,12.2),(22.77,18.8),(22.86,8.2),(22.95,0.7),(23.08,-0.7),(23.20,0.0),(23.30,8.2),(23.39,12.9),(23.46,19.3),
    (23.55,8.2),(23.64,1.4),(23.77,-0.7),(23.92,-2.0),(24.08,-2.7),(24.21,-3.8),
    (24.27,-0.3),(24.47,-0.3),(24.71,0.0),(24.89,-0.3),(24.99,12.5),(25.05,1.4),(25.11,-4.1),(25.21,-2.0),(25.30,-4.8),(25.36,-7.1),
    (25.46,-2.7),(25.59,-2.0),(25.68,2.7),(25.74,12.9),(25.80,1.4),(25.90,6.1),(25.99,2.7),(26.12,4.8),(26.21,12.2),(26.31,17.7),
    (26.40,8.2),(26.52,2.7),(26.65,0.0),(26.77,1.4),(26.87,8.2),(26.96,19.3),(27.05,9.5),(27.18,2.7),(27.30,1.4),(27.40,2.7),
    (27.49,8.2),(27.59,12.2),(27.65,4.1),(27.71,19.7),(27.81,8.2),(27.90,1.4),(27.98,0.0),
    (28.02,3.4),(28.12,8.2),(28.21,15.0),(28.31,21.1),(28.40,16.3),(28.49,10.9),(28.62,8.2),(28.71,6.8),(28.81,15.0),(28.90,19.3),
    (29.00,12.2),(29.12,5.4),(29.25,3.4),(29.40,2.7),(29.56,4.1),(29.72,5.7),(29.87,4.1),(30.03,2.7),(30.18,2.0),(30.34,2.4),
    (30.50,2.0),(30.65,2.7),(30.74,12.2),(30.81,20.4),(30.87,25.2),(30.97,13.6),(31.06,5.4),(31.16,4.1),(31.25,12.2),(31.31,15.6),
    (31.41,8.2),(31.50,6.1),(31.60,6.8),(31.69,4.8),(31.81,4.1),(31.91,3.4),(32.04,4.1),(32.09,2.7),
    (32.19,2.0),(32.38,1.4),(32.50,3.4),(32.63,2.7),(32.79,1.4),(32.94,0.7),(33.10,1.4),(33.25,3.4),(33.41,2.0),(33.63,1.4),
    (33.70,8.2),(33.76,-1.4),(33.82,4.1),(33.92,3.4),(34.03,4.8),(34.14,12.2),(34.26,19.0),(34.39,13.6),(34.50,8.8),(34.61,6.1),
    (34.70,9.5),(34.81,13.9),(34.92,5.4),(34.98,0.0),(35.07,2.7),(35.20,5.4),(35.33,8.8),(35.39,8.2),(35.48,13.9),(35.54,9.5),
    (35.61,4.8),(35.70,1.4),(35.83,0.7),(35.95,3.4),(36.06,2.0),(36.17,3.4),(36.30,-0.3),
    (36.37,1.4),(36.48,2.7),(36.61,5.4),(36.70,4.1),(36.83,4.8),(36.95,6.8),(37.08,8.2),(37.17,7.5),(37.27,8.2),(37.36,10.9),
    (37.47,16.3),(37.55,23.8),(37.64,15.0),(37.74,8.2),(37.86,4.8),(37.95,5.4),(38.05,13.6),(38.13,20.4),(38.20,13.6),(38.30,8.2),
    (38.39,5.4),(38.49,4.1),(38.58,6.1),(38.67,4.8),(38.80,6.8),(38.92,5.4),(39.05,6.8),(39.14,7.5),(39.24,3.4),(39.31,4.1),
    (39.39,1.6),(39.52,2.0),(39.68,3.4),(39.83,4.1),(39.99,4.8),(40.15,4.4),(40.30,3.4),(40.46,2.0),(40.58,2.7),(40.71,5.4),
    (40.80,6.8),(40.90,8.8),(40.99,10.2),(41.08,7.5),(41.18,9.5),(41.27,10.9),(41.37,11.6),(41.46,9.5),(41.55,10.9),(41.65,11.6),
    (41.74,8.8),(41.83,11.6),(41.93,15.0),(42.02,19.0),(42.12,25.2),(42.21,13.6),(42.30,6.8),(42.40,2.0),(42.49,3.4),(42.59,9.5),
    (42.65,11.6),(42.74,6.8),(42.84,2.0),(42.96,0.7),(43.09,2.0),(43.21,4.1),(43.34,5.4),(43.46,4.8),(43.59,3.4),(43.71,4.1),
    (43.80,4.8),
    (43.89,4.1),(44.04,4.4),(44.20,5.7),(44.35,4.8),(44.51,2.7),(44.67,2.0),(44.82,3.4),(44.98,6.1),(45.09,6.8),(45.22,4.8),
    (45.37,2.7),(45.53,4.8),(45.69,7.5),(45.78,8.4),(45.90,6.1),(46.03,3.4),(46.15,2.7),(46.28,5.4),(46.41,8.8),(46.50,6.1),
    (46.60,4.8),(46.69,9.5),(46.78,13.6),(46.88,10.9),(46.97,8.2),(47.06,8.8),(47.16,10.9),(47.25,9.5),(47.34,6.8),(47.44,10.9),
    (47.50,11.6),(47.60,8.2),(47.69,9.5),(47.78,12.9),(47.85,19.0),(47.94,24.5),(48.03,16.3),(48.13,9.5),(48.22,5.4),(48.33,7.5),
    (48.41,12.9),(48.50,10.9),(48.60,6.8),(48.69,4.1),(48.82,4.8),(48.91,8.2),(49.00,9.5),(49.05,8.8),
    (49.13,0.0),(49.20,-1.6),(49.28,4.8),(49.37,8.8),(49.47,6.8),(49.56,2.7),(49.66,0.7),(49.75,1.4),(49.85,4.8),(49.94,9.5),
    (50.04,7.5),(50.10,9.5),(50.19,10.2),(50.29,6.8),(50.38,8.8),(50.48,6.8),(50.57,4.8),(50.69,6.1),(50.82,5.4),(50.94,6.1),
    (51.04,7.5),(51.13,4.1),(51.26,4.4),(51.38,3.4),
]

lj_vrol = [
    (0.02,0.0),(0.17,0.4),(0.33,0.7),(0.49,1.4),(0.64,1.0),(0.77,0.4),(0.86,-1.4),(0.92,-3.4),(1.02,0.0),(1.11,1.0),
    (1.24,0.7),(1.39,1.0),(1.55,1.4),(1.71,1.0),(1.86,1.4),(1.99,1.8),(2.08,2.7),(2.18,1.4),(2.30,1.0),(2.43,2.0),
    (2.52,3.1),(2.61,1.4),(2.71,1.0),(2.80,2.0),(2.90,0.7),(2.99,2.7),(3.08,4.1),(3.16,2.0),
    (3.24,0.4),(3.33,1.0),(3.43,2.0),(3.52,0.7),(3.65,0.0),(3.77,0.7),(3.90,2.0),(3.99,0.0),(4.08,0.7),(4.21,2.0),
    (4.30,3.1),(4.40,1.4),(4.52,0.7),(4.65,1.4),(4.74,4.1),(4.84,3.4),(4.93,1.4),(5.02,2.7),(5.12,2.0),(5.21,0.7),
    (5.31,1.0),(5.40,0.0),(5.49,0.7),(5.59,-1.4),(5.68,0.0),(5.77,0.4),(5.87,-1.0),(5.96,0.0),(6.06,-1.0),(6.15,0.0),
    (6.21,0.4),(6.40,0.7),(6.59,1.0),(6.78,1.4),(6.96,2.0),(7.12,1.0),(7.28,1.4),(7.40,2.7),(7.53,5.0),(7.65,3.1),
    (7.78,2.0),(7.90,0.7),(8.03,2.7),(8.12,4.1),(8.22,2.7),
    (8.28,2.0),(8.40,2.7),(8.53,1.4),(8.65,0.0),(8.78,1.0),(8.90,1.4),(9.03,0.7),(9.16,2.0),(9.28,0.7),(9.41,1.4),
    (9.50,2.7),(9.59,0.0),(9.69,3.7),(9.78,0.7),(9.88,-0.7),(10.00,2.0),(10.09,0.0),(10.22,0.7),(10.31,-0.7),(10.41,0.7),
    (10.53,1.4),(10.66,0.4),(10.78,0.7),(10.91,1.0),(11.00,-0.7),(11.10,2.0),(11.19,3.4),(11.25,5.4),(11.35,1.4),(11.44,0.0),
    (11.57,0.7),(11.66,-1.4),(11.75,0.7),(11.85,1.4),(11.94,-1.4),(12.03,0.0),(12.13,2.0),(12.19,2.7),(12.29,0.0),(12.38,0.7),
    (12.47,0.4),(12.60,0.7),(12.69,1.4),(12.79,4.5),(12.88,2.0),(12.97,0.7),(13.10,1.0),
    (13.16,0.4),(13.29,1.0),(13.41,4.1),(13.51,2.0),(13.60,1.0),(13.72,0.7),(13.85,2.0),(13.94,3.1),(14.04,1.4),(14.16,0.7),
    (14.29,0.7),(14.41,1.4),(14.54,2.0),(14.66,2.7),(14.79,1.0),(14.92,0.7),(15.04,2.0),(15.16,3.1),(15.29,2.0),(15.42,1.4),
    (15.54,2.7),(15.63,4.1),(15.73,2.7),(15.85,1.4),(15.98,2.0),(16.10,1.0),
    (16.18,0.7),(16.34,0.0),(16.50,0.4),(16.65,0.7),(16.81,0.0),(16.97,-0.7),(17.13,2.0),(17.20,3.1),(17.29,1.4),(17.41,0.7),
    (17.51,0.0),(17.63,0.7),(17.76,0.0),(17.88,0.7),(18.01,0.0),(18.17,0.4),(18.32,0.0),(18.48,0.7),(18.57,3.1),
    (18.67,1.0),(18.84,0.7),(18.99,1.4),(19.15,0.7),(19.31,1.0),(19.46,0.7),(19.62,1.4),(19.78,0.7),(19.93,1.0),(20.09,1.4),
    (20.25,2.7),
    (20.33,3.7),(20.40,0.0),(20.48,-3.4),(20.58,-1.4),(20.67,0.0),(20.79,1.4),(20.92,-1.4),(21.04,-0.7),(21.20,0.0),(21.36,0.4),
    (21.51,0.0),(21.67,0.4),(21.83,0.7),(21.92,2.7),(22.01,0.7),(22.17,1.0),(22.33,0.7),(22.49,1.4),(22.61,2.0),(22.70,6.1),
    (22.77,7.8),(22.86,4.1),(22.95,3.4),(23.05,3.7),(23.14,2.7),(23.24,1.4),(23.33,0.0),(23.42,7.5),(23.49,8.6),(23.55,6.1),
    (23.64,3.4),(23.77,1.8),(23.92,1.0),(24.08,0.7),(24.21,0.7),
    (24.27,1.4),(24.47,1.0),(24.71,0.7),(24.89,0.0),(24.99,-1.4),(25.05,1.4),(25.11,-2.0),(25.21,0.0),(25.30,2.7),(25.36,4.1),
    (25.46,2.0),(25.55,2.3),(25.65,3.4),(25.74,6.1),(25.80,2.0),(25.90,2.0),(26.02,2.7),(26.15,1.4),(26.24,4.8),(26.31,7.5),
    (26.40,3.4),(26.52,2.0),(26.65,1.4),(26.77,3.4),(26.87,6.1),(26.93,9.5),(27.02,6.1),(27.12,4.8),(27.21,3.4),(27.30,4.1),
    (27.40,1.4),(27.49,4.8),(27.59,7.5),(27.68,11.8),(27.74,6.8),(27.84,3.4),(27.93,1.4),(27.98,2.0),
    (28.02,1.4),(28.12,2.7),(28.21,4.5),(28.31,2.7),(28.43,1.4),(28.56,0.7),(28.68,2.0),(28.81,3.7),(28.90,5.0),(29.00,2.0),
    (29.12,1.0),(29.28,0.7),(29.43,1.0),(29.59,1.4),(29.72,2.3),(29.84,2.0),(29.97,1.0),(30.12,0.7),(30.28,0.4),(30.43,0.7),
    (30.59,1.0),(30.68,2.0),(30.78,3.7),(30.87,0.7),(30.97,-1.4),(31.06,0.7),(31.16,0.7),(31.25,2.7),(31.35,0.7),(31.46,-1.0),
    (31.55,0.0),(31.71,0.7),(31.86,0.4),(32.02,0.7),(32.09,0.7),
    (32.19,0.7),(32.38,0.4),(32.61,0.7),(32.85,0.4),(33.08,0.7),(33.32,0.4),(33.48,1.4),(33.63,0.0),(33.73,-1.4),(33.82,-0.7),
    (33.95,0.7),(34.04,3.4),(34.14,6.1),(34.23,9.5),(34.32,8.2),(34.42,6.8),(34.51,4.8),(34.61,6.1),(34.70,4.8),(34.79,6.1),
    (34.89,1.4),(34.98,0.0),(35.07,0.7),(35.20,2.0),(35.29,3.4),(35.39,2.7),(35.48,7.5),(35.54,9.1),(35.64,5.4),(35.73,3.4),
    (35.83,3.1),(35.95,3.4),(36.08,2.7),(36.20,3.4),(36.30,3.1),
    (36.37,1.4),(36.48,2.0),(36.61,1.0),(36.76,0.7),(36.92,1.8),(37.08,2.7),(37.17,1.0),(37.30,1.4),(37.39,3.4),(37.49,2.7),
    (37.58,3.7),(37.67,2.0),(37.80,0.7),(37.92,1.0),(38.02,2.0),(38.11,3.4),(38.20,1.8),(38.33,0.7),(38.45,0.0),(38.58,0.7),
    (38.70,0.0),(38.83,0.7),(38.96,0.0),(39.11,0.7),(39.27,0.4),
    (39.39,0.7),(39.58,1.0),(39.82,0.7),(40.05,1.0),(40.29,1.4),(40.52,0.7),(40.76,0.0),(40.91,-1.0),(41.02,0.7),(41.15,2.7),
    (41.27,2.0),(41.40,3.1),(41.52,2.7),(41.65,3.4),(41.77,2.7),(41.87,1.4),(41.96,0.0),(42.05,-2.0),(42.13,6.1),(42.18,10.5),
    (42.27,7.5),(42.37,5.4),(42.46,2.7),(42.56,4.8),(42.65,6.1),(42.74,3.4),(42.87,2.0),(42.99,2.3),(43.12,1.4),(43.27,2.0),
    (43.43,1.4),(43.59,2.0),(43.74,1.4),
    (43.89,1.0),(44.12,1.4),(44.35,1.0),(44.59,1.4),(44.82,1.0),(44.98,2.0),(45.14,1.0),(45.29,0.7),(45.53,2.0),(45.69,3.1),
    (45.84,1.4),(46.00,0.7),(46.15,1.0),(46.31,2.0),(46.47,2.7),(46.62,2.0),(46.75,0.0),(46.84,-2.3),(46.93,1.4),(47.03,-0.7),
    (47.12,0.7),(47.22,2.0),(47.31,0.0),(47.41,1.4),(47.50,-0.7),(47.60,2.0),(47.69,-0.7),(47.75,1.4),(47.85,6.1),(47.94,9.9),
    (48.03,7.5),(48.13,4.8),(48.22,3.4),(48.32,6.1),(48.41,4.8),(48.50,2.7),(48.60,3.4),(48.72,2.3),(48.85,3.4),(48.97,2.7),
    (49.04,2.0),
    (49.13,2.0),(49.25,0.7),(49.38,0.0),(49.50,1.4),(49.63,0.7),(49.75,0.0),(49.88,2.0),(49.94,2.7),(50.04,-0.7),(50.13,0.7),
    (50.22,2.3),(50.32,0.0),(50.41,0.7),(50.54,1.4),(50.69,0.7),(50.85,1.0),(51.00,0.7),(51.16,1.4),(51.40,0.7),
]

hy_retr = [
    (0.02,-0.7),(0.14,0.7),(0.27,3.4),(0.39,7.5),(0.49,4.8),(0.58,2.0),(0.67,1.4),(0.77,10.2),(0.86,27.9),(0.95,19.7),
    (1.05,12.9),(1.14,8.8),(1.24,6.1),(1.33,7.5),(1.42,4.1),(1.52,4.8),(1.64,2.7),(1.77,2.0),(1.89,1.0),(2.02,0.0),
    (2.11,3.4),(2.21,10.2),(2.30,21.1),(2.39,18.4),(2.49,6.1),(2.58,19.7),(2.68,29.9),(2.77,17.0),(2.86,6.1),(2.96,11.6),
    (3.05,23.8),(3.13,29.0),
    (3.19,-2.7),(3.30,0.7),(3.40,8.8),(3.49,19.7),(3.58,29.2),(3.68,19.7),(3.77,6.1),(3.87,19.7),(3.96,30.6),(4.05,15.6),
    (4.15,3.4),(4.24,1.0),(4.34,11.6),(4.43,26.5),(4.52,14.3),(4.62,4.1),(4.71,12.9),(4.80,32.0),(4.90,19.7),(4.99,11.6),
    (5.09,22.4),(5.18,33.6),(5.27,21.1),(5.37,11.6),(5.46,10.2),(5.55,12.9),(5.65,13.6),(5.74,7.5),(5.84,4.8),(5.93,11.8),
    (6.03,6.1),(6.09,3.4),(6.17,9.1),
    (6.21,-1.4),(6.34,0.0),(6.46,6.1),(6.56,11.6),(6.65,16.3),(6.75,14.3),(6.84,12.2),(6.93,7.5),(7.06,3.4),(7.18,1.4),
    (7.31,0.0),(7.43,0.7),(7.53,6.1),(7.62,18.4),(7.72,28.6),(7.81,17.0),(7.90,6.1),(8.00,2.0),(8.09,6.1),(8.19,14.3),
    (8.25,12.9),
    (8.28,-1.4),(8.44,0.7),(8.56,11.6),(8.65,21.8),(8.75,11.6),(8.84,3.4),(8.97,2.0),(9.09,17.0),(9.19,29.0),(9.28,15.6),
    (9.37,2.7),(9.47,0.7),(9.56,11.6),(9.65,22.4),(9.75,11.6),(9.84,28.4),(9.94,17.0),(10.03,0.7),(10.16,11.6),(10.25,29.9),
    (10.34,17.0),(10.44,3.4),(10.56,0.7),(10.69,2.0),(10.81,1.0),(10.94,2.0),(11.03,11.6),(11.13,30.9),(11.22,17.0),(11.31,3.4),
    (11.44,2.0),(11.57,-0.7),(11.69,-1.4),(11.78,17.0),(11.88,33.3),(11.97,17.0),(12.07,3.4),(12.13,19.7),(12.22,34.7),(12.32,17.0),
    (12.41,4.8),(12.50,2.7),(12.60,4.8),(12.69,3.4),(12.79,2.0),(12.88,4.8),(12.97,2.7),(13.07,0.7),(13.12,0.0),
    (13.18,2.3),(13.29,2.0),(13.38,1.0),(13.51,6.1),(13.60,17.0),(13.69,26.5),(13.79,17.0),(13.88,3.7),(13.98,26.5),(14.07,36.0),
    (14.16,23.8),(14.26,10.9),(14.35,9.5),(14.44,6.1),(14.54,4.8),(14.63,5.4),(14.73,4.1),(14.82,3.4),(14.92,2.0),(15.04,1.4),
    (15.16,2.7),(15.26,5.4),(15.35,9.1),(15.45,6.8),(15.54,0.7),(15.67,4.8),(15.79,10.2),(15.88,11.6),(15.98,9.5),(16.07,6.1),
    (16.13,3.4),
    (16.16,0.0),(16.26,2.0),(16.35,5.4),(16.44,6.1),(16.54,4.1),(16.63,8.8),(16.73,18.4),(16.80,24.5),(16.88,17.0),(16.94,12.9),
    (17.01,18.4),(17.07,19.7),(17.13,8.8),(17.20,19.7),(17.27,27.9),(17.35,22.4),(17.45,14.3),(17.54,11.6),(17.63,15.6),(17.73,22.4),
    (17.79,23.8),(17.85,17.0),(17.98,6.1),(18.13,3.4),(18.29,1.4),(18.45,0.4),(18.57,3.4),
    (18.67,6.1),(18.76,11.6),(18.85,17.7),(18.95,17.0),(19.04,14.3),(19.14,16.3),(19.23,11.6),(19.32,8.2),(19.42,10.2),(19.51,6.1),
    (19.60,7.5),(19.70,10.9),(19.79,6.1),(19.89,2.7),(20.01,2.0),(20.17,1.4),(20.26,4.8),
    (20.33,0.7),(20.40,14.3),(20.48,31.3),(20.58,19.7),(20.67,6.1),(20.76,3.4),(20.86,6.1),(20.95,19.7),(21.01,25.2),(21.11,17.0),
    (21.20,8.8),(21.30,3.4),(21.42,0.0),(21.55,0.7),(21.67,-0.4),(21.80,0.7),(21.89,-2.0),(22.01,-0.7),(22.14,0.0),(22.27,-1.4),
    (22.39,-0.7),(22.52,0.0),(22.61,6.1),(22.67,17.0),(22.75,24.5),(22.83,14.3),(22.92,4.8),(23.02,0.7),(23.14,0.0),(23.27,3.4),
    (23.36,14.3),(23.46,24.9),(23.55,14.3),(23.64,6.1),(23.74,2.0),(23.83,-1.4),(23.96,-2.7),(24.08,-3.4),(24.21,-4.5),
    (24.27,-0.7),(24.47,-0.7),(24.71,-1.0),(24.89,-0.4),(24.99,11.6),(25.05,19.7),(25.11,8.8),(25.21,3.4),(25.30,2.0),(25.43,2.7),
    (25.55,2.0),(25.65,6.1),(25.74,17.0),(25.80,21.8),(25.90,11.6),(25.99,6.1),(26.08,8.8),(26.18,19.7),(26.27,30.6),(26.37,19.7),
    (26.46,7.5),(26.58,3.4),(26.68,6.1),(26.77,17.0),(26.85,25.2),(26.93,14.3),(27.02,6.1),(27.12,2.0),(27.21,3.4),(27.30,6.1),
    (27.40,0.7),(27.49,-2.0),(27.59,6.1),(27.68,22.4),(27.74,14.3),(27.84,3.4),(27.93,0.0),(27.98,0.7),
    (28.02,10.9),(28.12,8.2),(28.21,11.6),(28.31,22.4),(28.37,24.5),(28.46,17.0),(28.56,10.2),(28.65,7.5),(28.74,11.6),(28.87,22.4),
    (28.96,23.1),(29.06,14.3),(29.15,7.5),(29.28,3.4),(29.40,1.4),(29.56,2.0),(29.72,4.1),(29.84,4.8),(29.97,2.7),(30.12,0.7),
    (30.28,1.4),(30.43,0.7),(30.59,1.4),(30.72,6.1),(30.81,19.7),(30.89,27.2),(30.97,17.0),(31.06,8.8),(31.19,6.1),(31.28,15.6),
    (31.34,21.1),(31.44,11.6),(31.53,12.2),(31.63,7.5),(31.75,3.4),(31.91,2.7),(32.04,2.0),(32.09,2.7),
    (32.19,2.7),(32.35,2.0),(32.50,3.4),(32.66,2.0),(32.85,1.4),(33.03,2.0),(33.22,3.4),(33.38,2.3),(33.48,2.7),(33.63,3.4),
    (33.70,11.6),(33.76,15.0),(33.82,11.6),(33.89,12.2),(33.95,10.2),(34.04,7.5),(34.10,6.1),(34.17,11.6),(34.26,19.7),(34.35,14.3),
    (34.45,6.1),(34.57,0.7),(34.67,2.0),(34.76,6.1),(34.86,11.6),(34.95,6.1),(35.04,3.4),(35.14,5.4),(35.23,4.8),(35.36,6.1),
    (35.45,3.4),(35.54,4.8),(35.64,0.7),(35.73,-2.7),(35.83,0.7),(35.95,3.4),(36.05,1.4),(36.17,2.7),(36.30,0.7),
    (36.36,0.7),(36.45,2.0),(36.58,4.1),(36.70,2.0),(36.83,0.7),(36.95,2.0),(37.08,4.8),(37.17,6.8),(37.27,7.5),(37.36,6.1),
    (37.45,14.3),(37.55,22.4),(37.63,24.5),(37.70,14.3),(37.80,7.5),(37.89,6.1),(37.99,11.6),(38.08,19.7),(38.17,22.4),(38.27,17.0),
    (38.36,13.6),(38.46,9.5),(38.55,7.5),(38.64,9.5),(38.77,6.1),(38.89,4.8),(39.02,7.5),(39.14,8.8),(39.24,6.1),(39.33,4.1),
    (39.39,0.7),(39.52,1.4),(39.68,1.0),(39.83,2.3),(39.99,3.4),(40.15,4.5),(40.30,4.8),(40.46,3.4),(40.61,2.0),(40.77,4.8),
    (40.90,9.5),(41.02,11.6),(41.15,10.2),(41.24,8.8),(41.33,10.2),(41.43,11.6),(41.52,9.5),(41.62,7.5),(41.71,6.1),(41.80,8.8),
    (41.90,14.3),(41.99,23.8),(42.09,29.2),(42.16,19.7),(42.24,6.1),(42.34,2.0),(42.43,0.7),(42.52,3.4),(42.62,7.5),(42.68,8.2),
    (42.77,3.4),(42.87,0.0),(42.99,-0.7),(43.12,0.7),(43.24,2.7),(43.37,4.1),(43.49,3.4),(43.62,2.0),(43.74,3.4),(43.80,4.1),
    (43.89,2.3),(44.04,2.0),(44.20,2.7),(44.35,3.4),(44.51,2.0),(44.67,0.7),(44.82,2.7),(44.98,4.1),(45.09,5.0),(45.22,3.4),
    (45.37,0.7),(45.53,2.0),(45.69,4.8),(45.81,7.2),(45.94,5.4),(46.06,2.0),(46.19,0.7),(46.31,2.0),(46.44,4.8),(46.56,8.8),
    (46.66,9.5),(46.75,14.3),(46.81,23.8),(46.91,22.4),(47.00,17.0),(47.09,18.4),(47.19,13.6),(47.28,17.0),(47.38,8.8),(47.47,15.6),
    (47.53,19.7),(47.63,8.8),(47.72,6.1),(47.81,18.4),(47.89,34.0),(47.97,25.2),(48.06,11.6),(48.16,4.8),(48.25,0.7),(48.35,6.1),
    (48.44,10.2),(48.54,3.4),(48.63,0.0),(48.72,0.7),(48.85,3.4),(48.97,6.1),(49.04,6.8),
    (49.13,0.0),(49.22,1.4),(49.32,6.1),(49.41,11.6),(49.50,10.9),(49.60,4.8),(49.69,2.0),(49.79,0.7),(49.88,6.1),(49.97,14.3),
    (50.07,18.4),(50.13,14.3),(50.22,18.4),(50.32,12.9),(50.41,14.3),(50.51,19.0),(50.60,11.6),(50.69,10.2),(50.79,8.8),(50.88,6.1),
    (50.98,7.5),(51.07,4.8),(51.16,3.4),(51.26,4.5),(51.38,4.8),
]

hy_depr = [
    (0.02,-1.4),(0.14,-2.0),(0.30,-0.7),(0.42,0.0),(0.55,-1.4),(0.67,-2.0),(0.77,0.0),(0.92,2.7),(1.02,4.1),(1.11,2.0),
    (1.24,1.4),(1.36,0.7),(1.52,0.0),(1.67,-0.7),(1.83,-0.4),(1.99,-0.7),(2.11,0.0),(2.24,0.7),(2.33,2.0),(2.43,1.0),
    (2.52,-1.4),(2.61,-0.7),(2.71,0.7),(2.83,2.0),(2.93,0.0),(3.02,-1.4),(3.11,0.0),
    (3.19,-1.8),(3.30,-1.0),(3.43,-0.4),(3.55,-1.4),(3.68,0.7),(3.80,-0.7),(3.93,0.0),(4.05,1.0),(4.18,0.0),(4.30,-0.4),
    (4.43,0.0),(4.55,1.4),(4.68,0.7),(4.77,1.8),(4.87,0.7),(4.96,2.7),(5.06,0.0),(5.15,3.1),(5.24,1.4),(5.34,4.8),
    (5.43,3.7),(5.52,1.0),(5.62,2.7),(5.71,3.1),(5.77,0.0),(5.87,2.3),(5.96,3.4),(6.06,0.7),(6.15,-0.4),
    (6.21,-1.8),(6.34,-0.7),(6.46,0.7),(6.59,2.7),(6.71,4.1),(6.84,3.1),(6.96,0.7),(7.09,-0.4),(7.21,-0.7),(7.34,0.4),
    (7.47,-0.4),(7.59,1.4),(7.72,2.3),(7.84,1.0),(7.97,0.7),(8.09,1.8),(8.22,1.8),
    (8.28,-1.4),(8.40,-0.7),(8.53,0.0),(8.65,-1.0),(8.78,0.7),(8.90,0.0),(9.03,1.4),(9.16,-0.7),(9.28,0.7),(9.41,-1.4),
    (9.53,0.0),(9.66,1.0),(9.78,-0.4),(9.91,0.7),(10.03,-1.4),(10.16,0.7),(10.28,2.3),(10.38,3.1),(10.47,0.7),(10.59,-1.4),
    (10.72,-0.7),(10.84,0.0),(10.97,-0.7),(11.06,0.7),(11.16,2.0),(11.25,-0.4),(11.35,1.4),(11.44,0.0),(11.57,0.0),(11.66,-1.4),
    (11.75,-0.4),(11.85,0.7),(11.94,-0.7),(12.03,-1.8),(12.13,0.7),(12.22,-1.4),(12.29,-2.7),(12.38,-0.7),(12.50,0.0),(12.63,0.7),
    (12.75,0.0),(12.88,1.0),(13.01,0.0),(13.11,-0.4),
    (13.16,-0.7),(13.29,0.0),(13.41,1.4),(13.54,0.7),(13.66,1.8),(13.76,0.7),(13.85,2.7),(13.94,1.4),(14.07,0.0),(14.16,3.7),
    (14.26,2.0),(14.38,1.8),(14.51,1.0),(14.63,0.7),(14.76,0.4),(14.88,1.0),(15.01,1.8),(15.13,1.4),(15.26,2.0),(15.38,1.0),
    (15.51,0.0),(15.63,1.0),(15.76,1.8),(15.88,2.7),(16.01,2.3),(16.10,1.8),
    (16.19,-2.7),(16.35,-2.0),(16.51,-1.4),(16.66,-1.0),(16.82,-0.4),(16.98,-0.7),(17.13,0.0),(17.26,1.8),(17.35,3.1),(17.45,1.4),
    (17.57,1.0),(17.70,1.8),(17.79,-0.4),(17.91,0.7),(18.07,0.0),(18.23,-0.7),(18.38,-1.0),(18.54,-0.7),
    (18.66,-1.4),(18.76,-0.7),(18.89,1.0),(19.01,3.1),(19.10,2.0),(19.20,3.4),(19.29,1.8),(19.39,1.0),(19.48,3.1),(19.57,1.8),
    (19.67,4.1),(19.76,2.0),(19.89,0.7),(20.01,0.0),(20.17,-0.4),(20.26,0.7),
    (20.33,-0.4),(20.42,1.4),(20.51,3.1),(20.61,0.7),(20.70,0.0),(20.79,1.0),(20.92,2.0),(21.04,4.8),(21.14,3.4),(21.23,1.4),
    (21.33,0.4),(21.45,1.0),(21.58,0.0),(21.70,0.7),(21.83,0.0),(21.92,1.8),(22.01,0.0),(22.14,0.7),(22.27,-0.4),(22.39,0.7),
    (22.52,0.0),(22.61,2.0),(22.70,6.1),(22.80,8.2),(22.89,6.1),(22.99,3.4),(23.08,2.0),(23.20,2.3),(23.30,4.8),(23.39,6.8),
    (23.49,4.8),(23.58,2.0),(23.71,0.0),(23.83,-0.7),(23.96,-0.4),(24.08,-1.0),(24.21,-1.4),
    (24.27,-1.0),(24.47,-1.0),(24.71,-1.4),(24.89,-1.4),(24.99,2.0),(25.05,4.1),(25.11,2.7),(25.18,4.8),(25.24,2.0),(25.30,7.2),
    (25.36,5.4),(25.46,2.7),(25.55,2.0),(25.65,2.7),(25.74,4.8),(25.83,6.1),(25.93,6.8),(26.02,6.1),(26.12,4.8),(26.21,6.1),
    (26.33,8.2),(26.43,6.1),(26.52,4.1),(26.62,2.7),(26.71,4.8),(26.80,6.1),(26.90,4.8),(26.99,8.2),(27.09,6.1),(27.18,3.4),
    (27.27,4.1),(27.37,2.7),(27.46,3.1),(27.56,4.8),(27.65,7.5),(27.71,10.2),(27.77,5.4),(27.87,2.0),(27.98,0.7),
    (28.02,2.0),(28.15,2.7),(28.27,1.0),(28.40,2.0),(28.53,2.3),(28.65,1.4),(28.78,0.7),(28.90,2.3),(29.03,2.7),(29.15,1.0),
    (29.28,0.4),(29.40,1.0),(29.56,0.4),(29.72,0.0),(29.87,0.7),(30.03,1.8),(30.18,0.7),(30.34,0.0),(30.50,-0.7),(30.65,-0.4),
    (30.74,1.0),(30.84,2.3),(30.94,1.0),(31.03,-0.4),(31.13,1.8),(31.22,0.7),(31.31,2.3),(31.41,1.8),(31.53,4.1),(31.63,2.7),
    (31.75,0.7),(31.91,0.0),(32.06,-0.7),
    (32.19,-0.4),(32.38,-0.7),(32.53,0.4),(32.69,-0.4),(32.85,-1.0),(33.00,0.0),(33.16,-0.4),(33.32,-0.7),(33.48,-0.7),(33.63,-0.4),
    (33.70,-3.4),(33.76,0.0),(33.82,-0.7),(33.92,1.4),(34.01,2.0),(34.10,4.8),(34.20,7.5),(34.29,9.9),(34.39,6.1),(34.48,0.7),
    (34.57,-1.4),(34.67,0.0),(34.76,2.7),(34.86,0.7),(34.95,-0.7),(35.04,0.7),(35.14,2.0),(35.23,0.7),(35.33,2.0),(35.42,4.1),
    (35.51,1.4),(35.61,-0.4),(35.73,0.7),(35.86,1.4),(35.98,0.0),(36.14,-0.4),(36.30,0.0),
    (36.37,-0.7),(36.53,-1.0),(36.69,-0.4),(36.84,-0.7),(37.00,0.0),(37.16,-0.4),(37.31,0.7),(37.47,1.8),(37.58,1.0),(37.70,2.0),
    (37.83,0.7),(37.95,1.4),(38.08,1.0),(38.20,2.7),(38.33,4.1),(38.42,3.1),(38.52,1.8),(38.61,3.1),(38.70,1.4),(38.83,2.3),
    (38.96,1.4),(39.08,2.7),(39.21,1.8),(39.31,1.4),
    (39.39,-0.4),(39.58,-0.7),(39.82,-1.0),(40.05,-0.7),(40.29,-0.4),(40.52,0.0),(40.71,0.7),(40.83,-0.7),(40.96,2.0),(41.08,2.7),
    (41.21,2.3),(41.33,3.7),(41.43,4.8),(41.52,3.4),(41.62,2.3),(41.71,3.4),(41.80,1.8),(41.90,3.4),(41.99,5.4),(42.09,7.2),
    (42.18,4.8),(42.27,0.0),(42.37,-2.0),(42.46,-0.7),(42.56,1.4),(42.65,2.7),(42.74,0.7),(42.87,-0.7),(42.99,-0.4),(43.12,1.0),
    (43.24,1.8),(43.37,0.4),(43.49,-0.4),(43.65,0.0),(43.78,-0.4),
    (43.89,-0.7),(44.12,-0.4),(44.35,-0.7),(44.59,-0.4),(44.82,0.7),(45.06,0.0),(45.29,-0.4),(45.53,0.0),(45.76,0.7),(46.00,0.0),
    (46.23,-0.4),(46.39,0.0),(46.55,0.7),(46.70,1.4),(46.86,2.0),(46.97,4.1),(47.06,2.7),(47.16,3.4),(47.25,1.4),(47.34,3.4),
    (47.44,2.0),(47.53,0.7),(47.63,1.8),(47.72,2.3),(47.81,4.1),(47.91,6.8),(48.00,4.8),(48.10,1.4),(48.19,0.0),(48.29,0.7),
    (48.38,2.3),(48.47,3.1),(48.57,1.4),(48.66,0.0),(48.79,0.7),(48.91,1.4),(49.04,1.8),
    (49.13,-1.0),(49.22,-1.4),(49.32,0.0),(49.41,1.8),(49.50,2.7),(49.60,1.4),(49.69,0.0),(49.79,-1.0),(49.88,0.0),(49.97,2.0),
    (50.07,4.1),(50.16,6.1),(50.26,4.8),(50.35,3.4),(50.44,4.8),(50.54,3.4),(50.63,4.1),(50.72,2.3),(50.82,2.7),(50.94,1.8),
    (51.04,2.3),(51.16,1.0),(51.29,1.8),(51.40,1.4),
]

all_series = [su_abd, pg_retr, op_dil, op_elev, lj_depr, lj_vrol, hy_retr, hy_depr]

# ---------------- layout ----------------
W, H = 1253, 609
PX_PER_DEG = 2.45                     # vertical scale: 20 deg = 49 px
row_baseline_px = [125, 155, 235, 277, 350, 395, 495, 525]
label_y_px = [117, 139, 206, 270, 320, 383, 456, 516]
scale_bar_deg = 20

def rect(left, top, right, bottom):
    return [left / W, 1 - bottom / H, (right - left) / W, (bottom - top) / H]

t0_px, px_per_s = 117.0, 21.3
ax_left, ax_right = 100, 1230
xlim = ((ax_left - t0_px) / px_per_s, (ax_right - t0_px) / px_per_s)

fig = plt.figure(figsize=(W / 100, H / 100), dpi=100)

ax = fig.add_axes(rect(ax_left, 95, ax_right, 553))
ax.set_xlim(*xlim)
ax.set_ylim(-553 / PX_PER_DEG, -95 / PX_PER_DEG)

bounds = np.array(trial_start)
for data, color, base_px in zip(all_series, series_colors, row_baseline_px):
    arr = np.array(data)
    t, v = arr[:, 0], arr[:, 1] - base_px / PX_PER_DEG
    trial_idx = np.searchsorted(bounds, t, side="right") - 1
    for k in np.unique(trial_idx):
        m = trial_idx == k
        ax.plot(t[m], v[m], color=color, lw=1.05, solid_joinstyle="round")

for name, color, ypx in zip(series_names, series_colors, label_y_px):
    fig.text(108 / W, 1 - ypx / H, name, color=color, fontsize=12,
             fontweight="bold", ha="right", va="center")

fig.text(20 / W, 1 - 317 / H, "Principal cranial rotations", rotation=90,
         fontsize=15.5, ha="center", va="center")

for s in ("left", "top", "right"):
    ax.spines[s].set_visible(False)
ax.spines["bottom"].set_bounds(0, 50)
ax.spines["bottom"].set_linewidth(1.0)
ax.set_yticks([])
ax.set_xticks(np.arange(0, 51, 2))
ax.tick_params(axis="x", length=6, width=1.0, labelsize=11, pad=3)
fig.text(662 / W, 1 - 593 / H, "Time (sec)", fontsize=14.5, ha="center", va="center")

# scale bar
sb_t = (1221.5 - t0_px) / px_per_s
sb_bottom = -537 / PX_PER_DEG
ax.plot([sb_t, sb_t], [sb_bottom, sb_bottom + scale_bar_deg], color="black",
        lw=1.3, clip_on=False, solid_capstyle="butt")
ax.text(sb_t + 0.65, sb_bottom + scale_bar_deg / 2, f"{scale_bar_deg} deg",
        rotation=90, fontsize=12.5, ha="center", va="center")

# ethogram strip
ax_e = fig.add_axes(rect(ax_left, 81, ax_right, 91))
ax_e.set_xlim(*xlim)
ax_e.set_ylim(0, 1)
ax_e.axis("off")
capture_color, transport_color = "#b36ee2", "#ff7f00"
next_start = trial_start[1:] + [record_end]
for s, c, e in zip(trial_start, capture_end, next_start):
    ax_e.broken_barh([(s, c - s)], (0, 1), facecolor=capture_color, edgecolor="none")
    ax_e.broken_barh([(c, e - c)], (0, 1), facecolor=transport_color, edgecolor="none")

for name, s in zip(trial_names, trial_start):
    ax_e.plot([s], [1.9], marker="v", color="black", ms=7, clip_on=False)
    ax_e.text(s, 2.8, name, rotation=90, fontsize=11.5, ha="center", va="bottom")

handles = [Patch(facecolor=capture_color, label="Prey capture"),
           Patch(facecolor=transport_color, label="Intraoral transport")]
fig.legend(handles=handles, loc="center", bbox_to_anchor=(686 / W, 1 - 18 / H),
           ncol=2, frameon=False, fontsize=13, handlelength=1.88, handleheight=0.62,
           columnspacing=1.66, handletextpad=0.5, borderpad=0.2)

fig.savefig("out.png", dpi=100)
